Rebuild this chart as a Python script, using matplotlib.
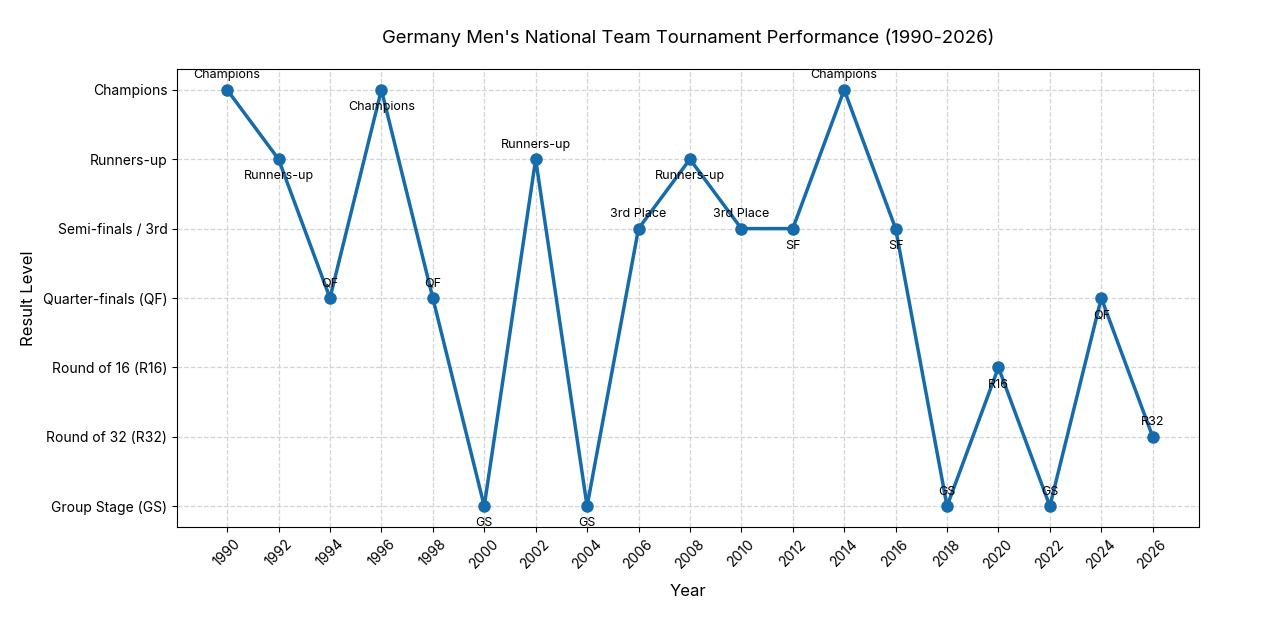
import matplotlib
matplotlib.use("Agg")
import matplotlib.pyplot as plt

plt.rcParams['font.family'] = ['Inter', 'DejaVu Sans']

years = [1990, 1992, 1994, 1996, 1998, 2000, 2002, 2004, 2006, 2008, 2010,
         2012, 2014, 2016, 2018, 2020, 2022, 2024, 2026]
levels = [6, 5, 3, 6, 3, 0, 5, 0, 4, 5, 4, 4, 6, 4, 0, 2, 0, 3, 1]
point_labels = ["Champions", "Runners-up", "QF", "Champions", "QF", "GS",
                "Runners-up", "GS", "3rd Place", "Runners-up", "3rd Place",
                "SF", "Champions", "SF", "GS", "R16", "GS", "QF", "R32"]
level_names = ["Group Stage (GS)", "Round of 32 (R32)", "Round of 16 (R16)",
               "Quarter-finals (QF)", "Semi-finals / 3rd", "Runners-up", "Champions"]

fig = plt.figure(figsize=(12.8, 6.38), dpi=100)
ax = fig.add_axes([177/1280, 1 - 527/638, (1199-177)/1280, (527-69)/638])

color = '#166bab'
ax.plot(years, levels, '-o', color=color, linewidth=2.5, markersize=8, zorder=3)

for i, (x, y, t) in enumerate(zip(years, levels, point_labels)):
    if i % 2 == 0:
        ax.annotate(t, (x, y), xytext=(0, 6), textcoords='offset points',
                    ha='center', va='bottom', fontsize=9)
    else:
        ax.annotate(t, (x, y), xytext=(0, -8), textcoords='offset points',
                    ha='center', va='top', fontsize=9)

ax.set_yticks(range(len(level_names)))
ax.set_yticklabels(level_names, fontsize=10)
ax.set_xticks(years)
ax.set_xticklabels([str(y) for y in years], rotation=45, fontsize=10)
ax.set_ylim(-0.3, 6.3)
ax.set_xlim(1988.05, 2027.8)
ax.grid(True, linestyle='--', color='#d4d4d4', linewidth=0.9)
ax.set_axisbelow(True)
ax.set_xlabel('Year', fontsize=12, labelpad=9)
ax.set_ylabel('Result Level', fontsize=12, labelpad=5)
ax.set_title("Germany Men's National Team Tournament Performance (1990-2026)",
             fontsize=13.3, pad=19)

fig.savefig('out.png', dpi=100)
